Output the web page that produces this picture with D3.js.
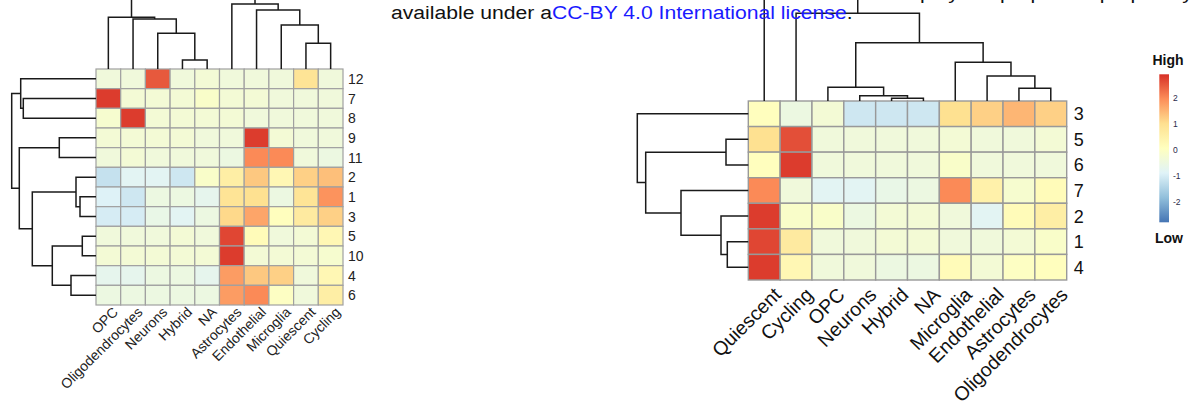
<!DOCTYPE html>
<html><head><meta charset="utf-8">
<script src="https://cdn.jsdelivr.net/npm/d3@7"></script>
<style>
html,body{margin:0;padding:0;background:#fff;}
svg{display:block;font-family:"Liberation Sans",Arial,sans-serif;}
</style></head>
<body><svg id="c" width="1194" height="410"></svg>
<script>
// ---------- data ----------
const leftCols = ["OPC","Oligodendrocytes","Neurons","Hybrid","NA","Astrocytes","Endothelial","Microglia","Quiescent","Cycling"];
const leftRows = ["12","7","8","9","11","2","1","3","5","10","4","6"];
const leftValues = [
  [-0.4,-0.4, 2.5,-0.4,-0.3,-0.4,-0.4,-0.4, 0.9,-0.4],
  [ 2.8,-0.3,-0.3,-0.3,-0.1,-0.3,-0.3,-0.4,-0.4,-0.4],
  [-0.2, 2.8,-0.3,-0.3,-0.3,-0.3,-0.4,-0.4,-0.4,-0.4],
  [-0.3,-0.3,-0.3,-0.3,-0.4,-0.4, 2.8,-0.3,-0.4,-0.4],
  [-0.4,-0.3,-0.4,-0.4,-0.4,-0.5, 2.0, 2.0,-0.4,-0.5],
  [-1.2,-0.8,-0.8,-1.1,-0.1, 0.6, 1.3, 0.3, 1.2, 1.4],
  [-0.9,-1.1,-0.5,-0.5,-0.7, 0.9, 1.0,-0.5, 0.9, 1.9],
  [-1.0,-1.0,-0.6,-0.8,-0.5, 1.1, 1.7, 0.1, 0.7, 1.2],
  [-0.4,-0.4,-0.4,-0.3,-0.4, 2.7, 0.2,-0.4,-0.3, 0.3],
  [-0.3,-0.3,-0.3,-0.3,-0.3, 2.8,-0.3,-0.3,-0.3,-0.2],
  [-0.7,-0.7,-0.5,-0.5,-0.7, 1.8, 1.3, 1.2,-0.4, 0.3],
  [-0.5,-0.5,-0.5,-0.5,-0.5, 1.8, 2.0, 0.0,-0.4, 0.6]
];
const rightCols = ["Quiescent","Cycling","OPC","Neurons","Hybrid","NA","Microglia","Endothelial","Astrocytes","Oligodendrocytes"];
const rightRows = ["3","5","6","7","2","1","4"];
const rightValues = [
  [ 0.1,-0.5,-0.3,-1.1,-1.1,-1.1, 1.0, 1.2, 1.5, 1.2],
  [ 1.0, 2.6,-0.4,-0.4,-0.4,-0.4,-0.3,-0.4,-0.4,-0.3],
  [ 0.1, 2.8,-0.4,-0.4,-0.4,-0.4,-0.1,-0.4,-0.4,-0.4],
  [ 2.0,-0.4,-0.8,-0.8,-0.6,-0.5, 2.0, 0.5,-0.2, 0.2],
  [ 2.8,-0.1,-0.1,-0.5,-0.3,-0.3,-0.4,-0.8, 0.2, 0.6],
  [ 2.7, 0.7,-0.4,-0.4,-0.3,-0.3,-0.4,-0.4,-0.3,-0.1],
  [ 2.8, 0.3,-0.4,-0.4,-0.5,-0.5, 0.2,-0.3, 0.0, 0.1]
];
// dendrograms: [left, right, mergeHeight]
const leftColTree = [["OPC",["Oligodendrocytes",["Neurons",["Hybrid","NA",9],35.7],50],51.7],
                     ["Astrocytes",["Endothelial",["Microglia",["Quiescent","Cycling",25.7],44],59],65],100];
const leftRowTree = [["12",["7","8",72.7],75.3],
                     [["9","11",36.7],[["2",["1","3",16],20],[["5","10",13.7],["4","6",25],43.7],63.7],76.7],84.3];
const rightColTree = ["Quiescent",["Cycling",[["OPC",["Neurons",["Hybrid","NA",2.7],5.3],13.7],
                      ["Microglia",["Endothelial",["Astrocytes","Oligodendrocytes",12.7],25],38.7],58.3],87.7],130];
const rightRowTree = ["3",[["5","6",22.3],["7",["2",["1","4",21],27.3],67.3],102.6],111];
const legendTicks = [2,1,0,-1,-2];
const legendRange = [-2.78, 2.92];
const palette = ["#4575b4","#91bfdb","#e0f3f8","#ffffbf","#fee090","#fc8d59","#d73027"];

// ---------- drawing ----------
const svg = d3.select("#c");
const color = d3.scaleLinear()
  .domain(d3.range(palette.length).map(i => legendRange[0] + i*(legendRange[1]-legendRange[0])/(palette.length-1)))
  .range(palette).clamp(true);

function drawDendro(g, tree, band, hScale, orient){
  function rec(node){
    if (typeof node === "string") return {p: band(node) + band.bandwidth()/2, h: 0};
    const a = rec(node[0]), b = rec(node[1]), h = node[2];
    const H = hScale(h);
    const d = orient === "top"
      ? `M${a.p},${hScale(a.h)}V${H}H${b.p}V${hScale(b.h)}`
      : `M${hScale(a.h)},${a.p}H${H}V${b.p}H${hScale(b.h)}`;
    g.append("path").attr("d", d);
    return {p: (a.p+b.p)/2, h};
  }
  return rec(tree);
}

function heatmap(o){
  const x = d3.scaleBand().domain(o.cols).range([o.x0, o.x1]);
  const y = d3.scaleBand().domain(o.rows).range([o.y0, o.y1]);
  const g = svg.append("g");
  o.rows.forEach((r, i) => {
    g.selectAll(null).data(o.values[i]).enter().append("rect")
      .attr("x", (v, j) => x(o.cols[j])).attr("y", y(r))
      .attr("width", x.bandwidth()).attr("height", y.bandwidth())
      .attr("fill", v => color(v))
      .attr("stroke", o.gridColor).attr("stroke-width", o.gridWidth);
  });
  g.selectAll(null).data(o.rows).enter().append("text")
    .attr("x", o.x1 + o.rowLabelGap).attr("y", d => y(d) + y.bandwidth()/2)
    .attr("dy", "0.36em").attr("font-size", o.rowFont).attr("fill", o.textColor)
    .text(d => d);
  g.selectAll(null).data(o.cols).enter().append("text")
    .attr("transform", d => `translate(${x(d) + x.bandwidth()/2 + o.colDx},${o.y1 + o.colDy}) rotate(-45)`)
    .attr("text-anchor", "end").attr("font-size", o.colFont).attr("fill", o.textColor)
    .text(d => d);
  const dg = svg.append("g").attr("fill","none").attr("stroke","#1a1a1a").attr("stroke-width",1.5);
  drawDendro(dg, o.colTree, x, d3.scaleLinear().domain([0,100]).range([o.y0, o.y0 - 100]), "top");
  drawDendro(dg, o.rowTree, y, d3.scaleLinear().domain([0,100]).range([o.x0, o.x0 - 100]), "left");
}

heatmap({cols: leftCols, rows: leftRows, values: leftValues, colTree: leftColTree, rowTree: leftRowTree,
  x0: 96, x1: 343, y0: 69, y1: 305, gridColor: "#a0a0a0", gridWidth: 1.2,
  rowLabelGap: 5, rowFont: "14px", colFont: "14px", colDx: 10.5, colDy: 8, textColor: "#222"});
heatmap({cols: rightCols, rows: rightRows, values: rightValues, colTree: rightColTree, rowTree: rightRowTree,
  x0: 748.3, x1: 1066.7, y0: 101, y1: 280, gridColor: "#999", gridWidth: 1.4,
  rowLabelGap: 7, rowFont: "18px", colFont: "19.5px", colDx: 18, colDy: 16, textColor: "#111"});

// legend
const lg = svg.append("g");
const ly = d3.scaleLinear().domain(legendRange).range([222.3, 74.3]);
const defs = svg.append("defs");
const grad = defs.append("linearGradient").attr("id","lgd").attr("x1",0).attr("y1",1).attr("x2",0).attr("y2",0);
grad.selectAll("stop").data(color.domain()).enter().append("stop")
  .attr("offset", d => (d - legendRange[0])/(legendRange[1]-legendRange[0]))
  .attr("stop-color", d => color(d));
lg.append("rect").attr("x",1159.3).attr("y",ly(legendRange[1])).attr("width",9.7)
  .attr("height", ly(legendRange[0]) - ly(legendRange[1])).attr("fill","url(#lgd)");
lg.selectAll(null).data(legendTicks).enter().append("text")
  .attr("x",1173).attr("y", d => ly(d)).attr("dy","0.36em").attr("font-size","8.5px").attr("fill","#2b2b4a")
  .text(d => d);
lg.append("text").attr("x",1168).attr("y",65).attr("text-anchor","middle").attr("font-size","14px")
  .attr("font-weight","bold").attr("fill","#111").text("High");
lg.append("text").attr("x",1169).attr("y",243).attr("text-anchor","middle").attr("font-size","14px")
  .attr("font-weight","bold").attr("fill","#111").text("Low");

// page header text
const hdr = svg.append("text").attr("transform","translate(391,18.6) scale(1.15,1)").attr("font-size","18.4px").attr("fill","#111");
hdr.append("tspan").text("available under a");
hdr.append("tspan").attr("fill","#1a1aff").text("CC-BY 4.0 International license");
hdr.append("tspan").text(".");
svg.append("text").attr("transform","translate(893,-1) scale(1.15,1)").attr("font-size","18.4px").attr("fill","#111")
  .text("display the preprint in perpetuity. It is made");
</script></body></html>
